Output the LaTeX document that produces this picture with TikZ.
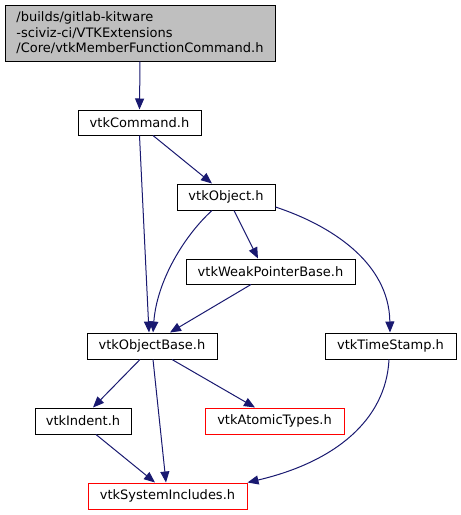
\documentclass[tikz,border=0pt]{standalone}
\usepackage{fontspec}
\setmainfont{DejaVu Sans}
\usetikzlibrary{arrows.meta}

\definecolor{edgeblue}{HTML}{191970}
\definecolor{boxgray}{HTML}{BFBFBF}

\begin{document}
\begin{tikzpicture}[x=1pt, y=-1pt, font=\fontsize{13}{15.5}\selectfont,
  file/.style={draw=black, line width=1pt, inner sep=0pt, minimum height=26pt},
  missing/.style={file, draw=red},
  dep/.style={draw=edgeblue, line width=1pt, -{Triangle[length=11pt,width=9pt]}}]
  \useasboundingbox (0,0) rectangle (461,515);

  % Header files
  \node[file, fill=boxgray, minimum width=270pt, minimum height=56pt, align=left] (top) at (140,33)
    {/builds/gitlab-kitware\\-sciviz-ci/VTKExtensions\\/Core/vtkMemberFunctionCommand.h};
  \node[file, minimum width=123pt, minimum height=25pt] (cmd) at (139.5,122.5) {vtkCommand.h};
  \node[file, minimum width=98pt] (obj) at (226,197) {vtkObject.h};
  \node[file, minimum width=169pt, minimum height=25pt] (wpb) at (270.5,271.5) {vtkWeakPointerBase.h};
  \node[file, minimum width=130pt] (objbase) at (152,346) {vtkObjectBase.h};
  \node[file, minimum width=131pt] (stamp) at (390.5,346) {vtkTimeStamp.h};
  \node[file, minimum width=96pt] (indent) at (83,421) {vtkIndent.h};
  \node[missing, minimum width=139pt] (atomic) at (274.5,421) {vtkAtomicTypes.h};
  \node[missing, minimum width=159pt] (sysinc) at (167.5,496) {vtkSystemIncludes.h};

  % Include edges
  \draw[dep] (top.south) -- (cmd.north);
  \draw[dep] ([xshift=13.5pt]cmd.south) -- ([xshift=-14pt]obj.north);
  \draw[dep] (cmd.south) -- ([xshift=-3pt]objbase.north);
  \draw[dep] ([xshift=-14pt]obj.south) .. controls (185,235) and (157,280) .. ([xshift=1pt]objbase.north);
  \draw[dep] ([xshift=8pt]obj.south) -- ([xshift=-12.5pt]wpb.north);
  \draw[dep] ([yshift=-10pt]obj.east) .. controls (330,225) and (389,262) .. ([xshift=-0.5pt]stamp.north);
  \draw[dep] ([xshift=-19.5pt]wpb.south) -- ([xshift=18pt]objbase.north);
  \draw[dep] ([xshift=-12pt]objbase.south) -- ([xshift=10pt]indent.north);
  \draw[dep] ([xshift=1pt]objbase.south) -- ([xshift=-1.5pt]sysinc.north);
  \draw[dep] ([xshift=20pt]objbase.south) -- ([xshift=-19.5pt]atomic.north);
  \draw[dep] ([xshift=13pt]indent.south) -- ([xshift=-12.5pt]sysinc.north);
  \draw[dep] ([xshift=-1.5pt]stamp.south) .. controls (386,420) and (335,462) .. (sysinc.north east);
\end{tikzpicture}
\end{document}
